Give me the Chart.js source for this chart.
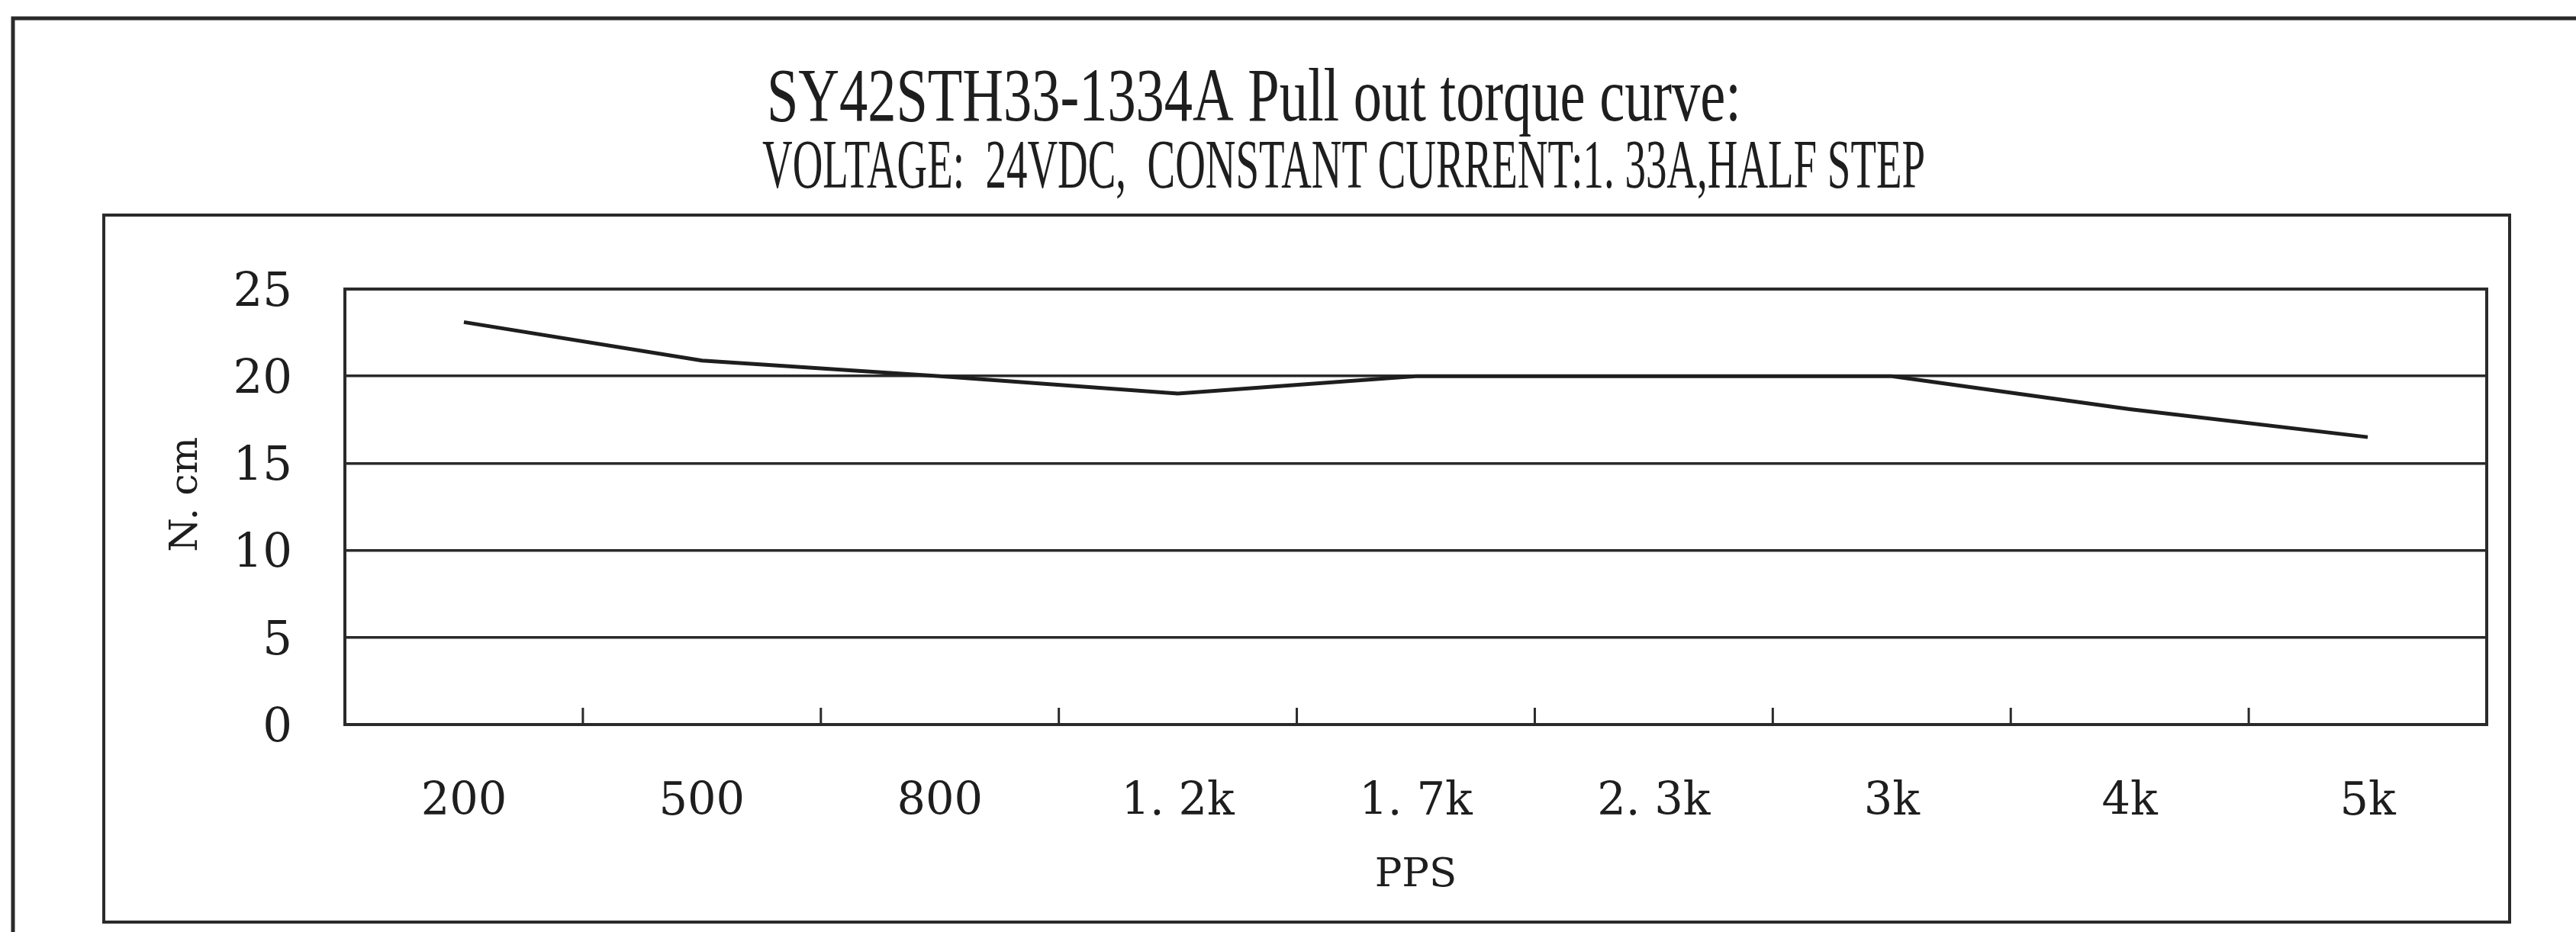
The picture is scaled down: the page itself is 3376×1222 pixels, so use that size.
<!DOCTYPE html>
<html lang="en">
<head>
    <meta charset="UTF-8">
    <title>SY42STH33-1334A Pull out torque curve</title>
    <style>
        html, body {
            margin: 0;
            padding: 0;
            background-color: #ffffff;
        }

        .chart-container {
            width: 3376px;
            height: 1222px;
            position: relative;
        }
    </style>
</head>
<body>

    <div class="chart-container">
        <canvas id="torqueChart" width="3376" height="1222"></canvas>
    </div>

    <script src="https://cdn.jsdelivr.net/npm/chart.js"></script>
    <script>
// data
const speedLabels = ['200', '500', '800', '1. 2k', '1. 7k', '2. 3k', '3k', '4k', '5k'];
const torqueValues = [23.1, 20.9, 20.0, 19.0, 20.0, 20.0, 20.0, 18.1, 16.5];
const yTickValues = [0, 5, 10, 15, 20, 25];
const titleLines = [
    'SY42STH33-1334A Pull out torque curve:',
    'VOLTAGE:  24VDC,  CONSTANT CURRENT:1. 33A,HALF STEP'
];

const inkColor = '#1e1e1e';

// condensed two-line heading, squeezed to the width it has in the scan
const headingPlugin = {
    id: 'heading',
    afterDraw(chart) {
        const ctx = chart.ctx;
        const lines = [
            { text: titleLines[0], size: 100, x: 1005, y: 158, width: 1277 },
            { text: titleLines[1], size: 92, x: 999, y: 246, width: 1524 }
        ];
        ctx.save();
        ctx.fillStyle = inkColor;
        ctx.textBaseline = 'alphabetic';
        ctx.textAlign = 'left';
        lines.forEach(line => {
            ctx.font = line.size + 'px "Liberation Serif", serif';
            const w = ctx.measureText(line.text).width;
            const sx = line.width / w;
            ctx.save();
            ctx.scale(sx, 1);
            ctx.fillText(line.text, line.x / sx, line.y);
            ctx.restore();
        });
        ctx.restore();
    }
};

// page frame, inner box, plot border and the short inward ticks on the x axis
const framePlugin = {
    id: 'frames',
    afterDraw(chart) {
        const ctx = chart.ctx;
        const area = chart.chartArea;
        const xScale = chart.scales.x;
        ctx.save();
        ctx.strokeStyle = '#2a2a2a';

        ctx.lineWidth = 5;
        ctx.strokeRect(17, 24, 3500, 1400);

        ctx.lineWidth = 4;
        ctx.strokeRect(136, 282, 3153, 927);

        ctx.strokeRect(area.left, area.top, area.right - area.left, area.bottom - area.top);

        ctx.lineWidth = 3;
        for (let i = 1; i < speedLabels.length; i++) {
            const px = (xScale.getPixelForValue(i - 1) + xScale.getPixelForValue(i)) / 2;
            ctx.beginPath();
            ctx.moveTo(px, area.bottom);
            ctx.lineTo(px, area.bottom - 22);
            ctx.stroke();
        }
        ctx.restore();
    }
};

const ctx = document.getElementById('torqueChart').getContext('2d');

new Chart(ctx, {
    type: 'line',
    data: {
        labels: speedLabels,
        datasets: [{
            label: 'Pull out torque',
            data: torqueValues,
            borderColor: inkColor,
            borderWidth: 5,
            pointRadius: 0,
            tension: 0,
            fill: false
        }]
    },
    options: {
        responsive: false,
        animation: false,
        devicePixelRatio: 1,
        layout: {
            padding: { left: 0, top: 379, right: 117, bottom: 0 }
        },
        plugins: {
            legend: { display: false },
            tooltip: { enabled: false },
            title: { display: false }
        },
        scales: {
            x: {
                type: 'category',
                offset: true,
                grid: { display: false, drawTicks: false },
                border: { display: false },
                ticks: {
                    color: inkColor,
                    font: { family: '"DejaVu Serif", serif', size: 59 },
                    padding: 67,
                    maxRotation: 0,
                    autoSkip: false
                },
                title: {
                    display: true,
                    text: 'PPS',
                    color: inkColor,
                    font: { family: '"DejaVu Serif", serif', size: 53 },
                    padding: { top: 0, bottom: 42 }
                },
                afterFit(scale) {
                    scale.height = 272;
                }
            },
            y: {
                min: 0,
                max: 25,
                grid: {
                    color: '#2a2a2a',
                    lineWidth: 3.5,
                    drawTicks: false
                },
                border: { display: false },
                ticks: {
                    color: inkColor,
                    font: { family: '"DejaVu Serif", serif', size: 61 },
                    padding: 69,
                    labelOffset: 6
                },
                afterBuildTicks(scale) {
                    scale.ticks = yTickValues.map(v => ({ value: v }));
                },
                title: {
                    display: true,
                    text: '  N. cm',
                    color: inkColor,
                    font: { family: '"DejaVu Serif", serif', size: 51 },
                    padding: { top: 214, bottom: 0 }
                },
                afterFit(scale) {
                    scale.width = 452;
                }
            }
        }
    },
    plugins: [framePlugin, headingPlugin]
});
    </script>

</body>
</html>
